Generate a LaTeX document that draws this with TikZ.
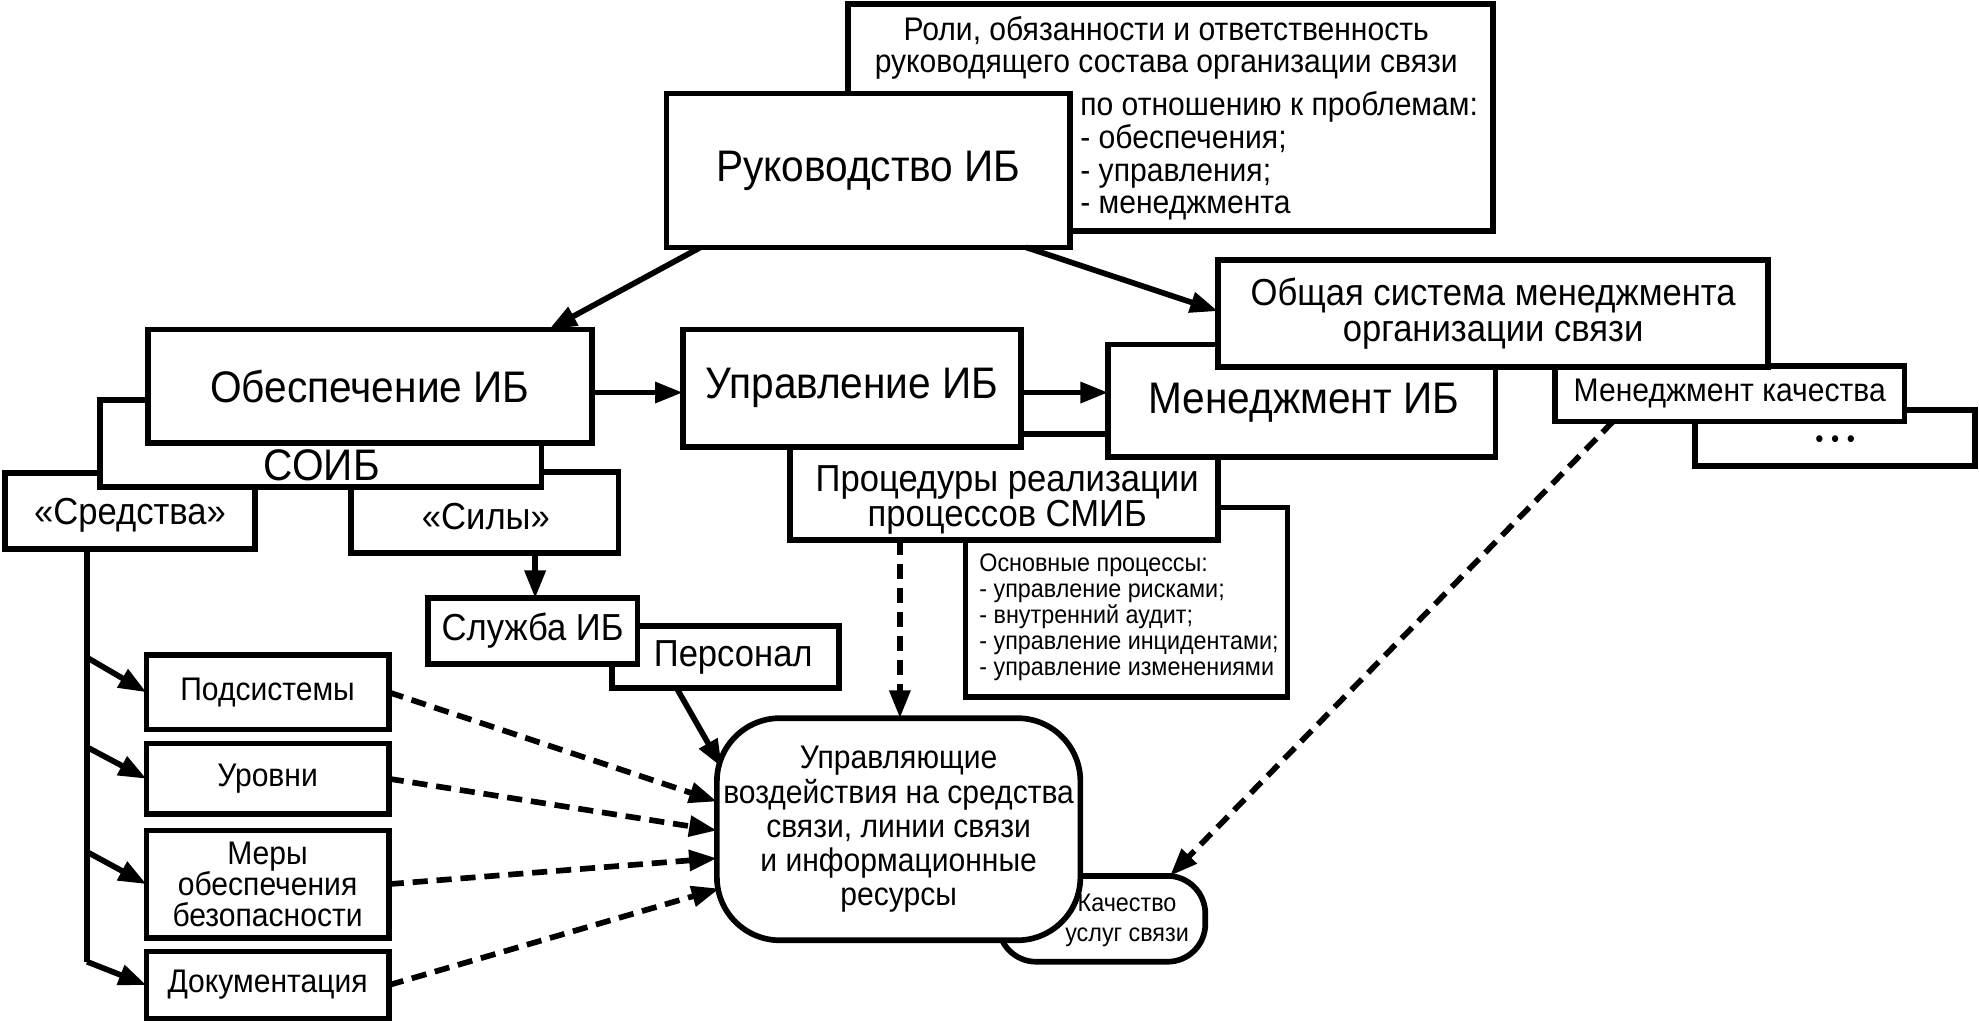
\documentclass[tikz,border=0pt]{standalone}
\usepackage{fontspec}
\setmainfont[FakeStretch=0.92]{Liberation Sans}
\usetikzlibrary{arrows.meta,calc}
\newcommand\fbig{\fontsize{35}{38}\selectfont}
\newcommand\fmed{\fontsize{29.8}{28}\selectfont}
\newcommand\fsml{\fontsize{25.9}{26}\selectfont}
\newcommand\ftny{\fontsize{20.1}{20.5}\selectfont}
\begin{document}
\begin{tikzpicture}[x=1pt,y=-1pt,
  box/.style={draw, line width=4.5pt, fill=white, inner sep=0pt, outer sep=0pt, rectangle, align=center},
  txt/.style={inner sep=0pt, outer sep=0pt, align=center},
  tip/.style={-{Triangle[length=22pt,width=16pt]}},
  arr/.style={line width=4.5pt, tip},
  darr/.style={line width=4.5pt, dash pattern=on 12pt off 7pt, tip},
  plain/.style={line width=4.5pt},
]
\fill[white] (0,0) rectangle (1568,815);
\useasboundingbox (0,0) rectangle (1568,815);

% top
\node[box, minimum width=511pt, minimum height=180pt] (roles) at (927.5,93) {};
\node[box, minimum width=320pt, minimum height=122pt, font=\fbig] (ruk) at (688,135) {Руководство ИБ};
\node[txt, font=\fsml] (rolesA) at (924,38) {Роли, обязанности и ответственность\\руководящего состава организации связи};
\node[txt, font=\fsml, anchor=west, align=left] (rolesB) at (856,123.5) {по отношению к проблемам:\\- обеспечения;\\- управления;\\- менеджмента};

% middle right
\node[box, minimum width=255pt, minimum height=150pt] (osn) at (892.5,477) {};
\node[txt, font=\ftny, anchor=west, align=left] (osnt) at (776,489) {Основные процессы:\\- управление рисками;\\- внутренний аудит;\\- управление инцидентами;\\- управление изменениями};
\node[box, minimum width=339pt, minimum height=84pt] (proc) at (795.5,386) {};
\node[txt, font=\fmed] (proct) at (798,396) {Процедуры реализации\\процессов СМИБ};
\node[box, minimum width=268pt, minimum height=93pt, font=\fbig] (upr) at (675,307.5) {Управление ИБ};
\node[box, minimum width=222pt, minimum height=44pt] (dots) at (1454,347) {};
\node[txt, font=\fontsize{20}{20}\selectfont] (dotst) at (1454,350) {•\hspace{6pt}•\hspace{6pt}•};
\node[box, minimum width=277pt, minimum height=44pt, font=\fsml] (mk) at (1370.5,312) {Менеджмент качества};
\node[box, minimum width=307pt, minimum height=89pt] (men) at (1031.5,317.5) {};
\node[txt, font=\fbig] (ment) at (1033,319) {Менеджмент ИБ};
\node[box, minimum width=436pt, minimum height=85pt, font=\fmed] (obsh) at (1183,248.5) {Общая система менеджмента\\организации связи};

% left
\node[box, minimum width=198pt, minimum height=60pt] (sredstva) at (103,405) {};
\node[txt, font=\fmed] (sredt) at (103,408) {«Средства»};
\node[box, minimum width=212pt, minimum height=64pt] (sily) at (384,406) {};
\node[txt, font=\fmed] (silyt) at (385,409) {«Силы»};
\node[box, minimum width=350pt, minimum height=69pt] (soib) at (254,351.5) {};
\node[txt, font=\fbig] (soibt) at (255,369) {СОИБ};
\node[box, minimum width=352pt, minimum height=90pt, font=\fbig] (obesp) at (293,306) {Обеспечение ИБ};

\node[box, minimum width=180pt, minimum height=49pt] (pers) at (575,520.5) {};
\node[txt, font=\fmed] (perst) at (581,521) {Персонал};
\node[box, minimum width=166pt, minimum height=52pt, font=\fmed] (sluzhba) at (422,500) {Служба ИБ};

\node[box, minimum width=192pt, minimum height=59pt, font=\fsml] (podsis) at (212,548.5) {Подсистемы};
\node[box, minimum width=192pt, minimum height=56pt, font=\fsml] (urovni) at (212,617) {Уровни};
\node[box, minimum width=192pt, minimum height=85pt, font=\fontsize{25.9}{24.5}\selectfont] (mery) at (212,700.5) {Меры\\обеспечения\\безопасности};
\node[box, minimum width=192pt, minimum height=53pt, font=\fsml] (dok) at (212,780.5) {Документация};

% bottom
\node[box, rounded corners=30pt, minimum width=164pt, minimum height=68pt] (kach) at (873,728) {};
\node[txt, font=\fontsize{20.1}{24}\selectfont] (kacht) at (893,729) {Качество\\услуг связи};
\node[box, rounded corners=50pt, minimum width=288pt, minimum height=176pt, font=\fontsize{25.9}{27}\selectfont] (upravl) at (712,657) {Управляющие\\воздействия на средства\\связи, линии связи\\и информационные\\ресурсы};

% connectors
\draw[arr] ($(ruk.south west)+(27,0)$) -- ($(obesp.north west)+(318,0)$);
\draw[arr] ($(ruk.south east)+(-35,0)$) -- ($(obsh.west)+(0,-2)$);
\draw[arr] ($(obesp.east)+(0,5)$) -- ($(upr.west)+(0,3.5)$);
\draw[arr] ($(upr.east)+(0,3.5)$) -- ($(men.west)+(0,-6.5)$);
\draw[arr] ($(sily.south)+(40,0)$) -- ($(sluzhba.north)+(2,0)$);
\draw[arr] ($(pers.south west)+(51,0)$) -- ($(upravl.north west)+(4,39)$);
\draw[darr] ($(proc.south west)+(87,0)$) -- ($(upravl.north)+(1,0)$);
\draw[darr] ($(mk.south west)+(46,0)$) -- ($(kach.north west)+(136,0)$);
\draw[darr] (podsis.east) -- ($(upravl.west)+(0,-22)$);
\draw[darr] (urovni.east) -- ($(upravl.west)+(0,1)$);
\draw[darr] (mery.east) -- ($(upravl.west)+(0,23)$);
\draw[darr] (dok.east) -- ($(upravl.west)+(2,47)$);

\coordinate (b1) at (69,521);
\coordinate (b2) at (69,592);
\coordinate (b3) at (69,675);
\coordinate (b4) at (69,762);
\draw[plain] ($(sredstva.south west)+(65,0)$) -- (b4);
\draw[arr] (b1) -- (podsis.west);
\draw[arr] (b2) -- (urovni.west);
\draw[arr] (b3) -- (mery.west);
\draw[arr] (b4) -- (dok.west);
\end{tikzpicture}
\end{document}
